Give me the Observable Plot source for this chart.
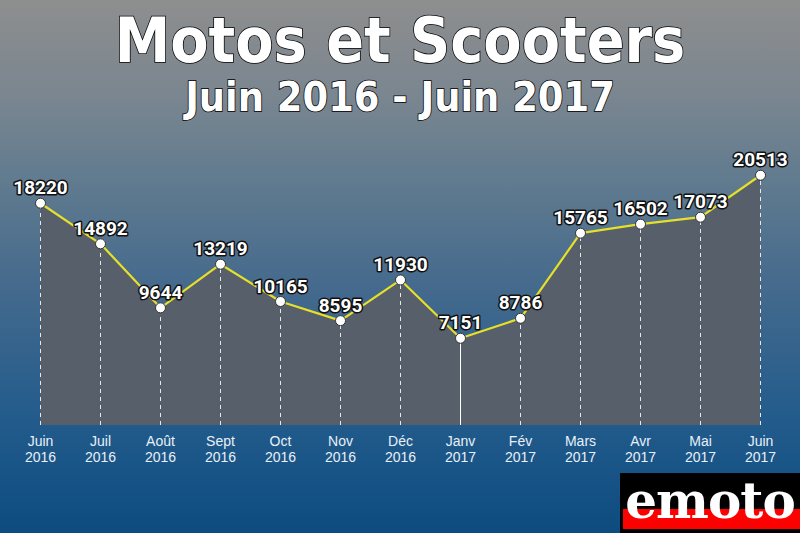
<!DOCTYPE html>
<html>
<head>
<meta charset="utf-8">
<script src="https://cdn.jsdelivr.net/npm/d3@7"></script>
<script src="https://cdn.jsdelivr.net/npm/@observablehq/plot@0.6"></script>
<style>
  html, body { margin: 0; padding: 0; }
  body { width: 800px; height: 533px; overflow: hidden; }
  #wrap {
    position: relative; width: 800px; height: 533px;
    background: linear-gradient(to bottom, #8e8e8e 0%, #7a8690 18%, #5f7a8f 35%, #43698d 55%, #235c8c 78%, #0d4b80 100%);
  }
  #title, #subtitle {
    position: absolute; left: 0; width: 800px; text-align: center; color: #fff;
    font-family: "DejaVu Sans Condensed", "DejaVu Sans", sans-serif; font-weight: bold;
    font-stretch: condensed;
    -webkit-text-stroke: 1.5px #000; paint-order: stroke fill;
  }
  #title { top: 4px; font-size: 62px; line-height: 74px; }
  #subtitle { top: 72px; font-size: 41px; line-height: 50px; }
  #chart { position: absolute; left: 0; top: 0; }
  #logo {
    position: absolute; left: 620px; top: 473px; width: 180px; height: 60px; background: #000;
  }
  #logo .red { position: absolute; left: 3px; right: 0; top: 36px; height: 20px; background: #ff0000; }
  #logo .txt {
    position: absolute; left: 0; width: 180px; top: 0px; text-align: center;
    font-family: "DejaVu Serif", serif; font-weight: bold; font-size: 50px; line-height: 56px; color: #fff;
    letter-spacing: -1px;
  }
</style>
</head>
<body>
<div id="wrap">
  <div id="chart"></div>
  <div id="title">Motos et Scooters</div>
  <div id="subtitle">Juin 2016 - Juin 2017</div>
  <div id="logo"><div class="red"></div><div class="txt">emoto</div></div>
</div>
<script>
const months = ["Juin", "Juil", "Août", "Sept", "Oct", "Nov", "Déc", "Janv", "Fév", "Mars", "Avr", "Mai", "Juin"];
const years = ["2016", "2016", "2016", "2016", "2016", "2016", "2016", "2017", "2017", "2017", "2017", "2017", "2017"];
const values = [18220, 14892, 9644, 13219, 10165, 8595, 11930, 7151, 8786, 15765, 16502, 17073, 20513];

const data = months.map((m, i) => ({ key: m + "\n" + years[i], value: values[i], solid: i === 7 }));
const domain = data.map(d => d.key);

const chart = Plot.plot({
  width: 800,
  height: 533,
  marginLeft: 40,
  marginRight: 40,
  marginTop: 120,
  marginBottom: 108,
  style: { background: "transparent", overflow: "visible" },
  x: { type: "point", domain, padding: 0, label: null },
  y: { domain: [0, 25000], axis: null },
  marks: [
    Plot.areaY(data, { x: "key", y: "value", fill: "#575f6a", fillOpacity: 1 }),
    Plot.ruleX(data.filter(d => !d.solid), { x: "key", y1: 0, y2: "value", stroke: "#e8e8e8", strokeWidth: 1, strokeDasharray: "4,4" }),
    Plot.ruleX(data.filter(d => d.solid), { x: "key", y1: 0, y2: "value", stroke: "#ffffff", strokeWidth: 1 }),
    Plot.lineY(data, { x: "key", y: "value", stroke: "#e6e02a", strokeWidth: 2.2 }),
    Plot.dot(data, { x: "key", y: "value", r: 5, fill: "#ffffff", stroke: "#333", strokeWidth: 1 }),
    Plot.text(data, {
      x: "key", y: "value", text: d => String(d.value), dy: -15,
      fill: "#ffffff", stroke: "#111", strokeWidth: 3, fontSize: 19, fontWeight: "bold",
      fontFamily: "Roboto, sans-serif"
    }),
    Plot.axisX({
      domain, tickSize: 0, tickPadding: 9, fontSize: 14, label: null,
      fill: "#e8f0f8", fontFamily: "'Liberation Sans', Arial, sans-serif",
      lineHeight: 1.15
    })
  ]
});
document.getElementById("chart").appendChild(chart);
</script>
</body>
</html>
